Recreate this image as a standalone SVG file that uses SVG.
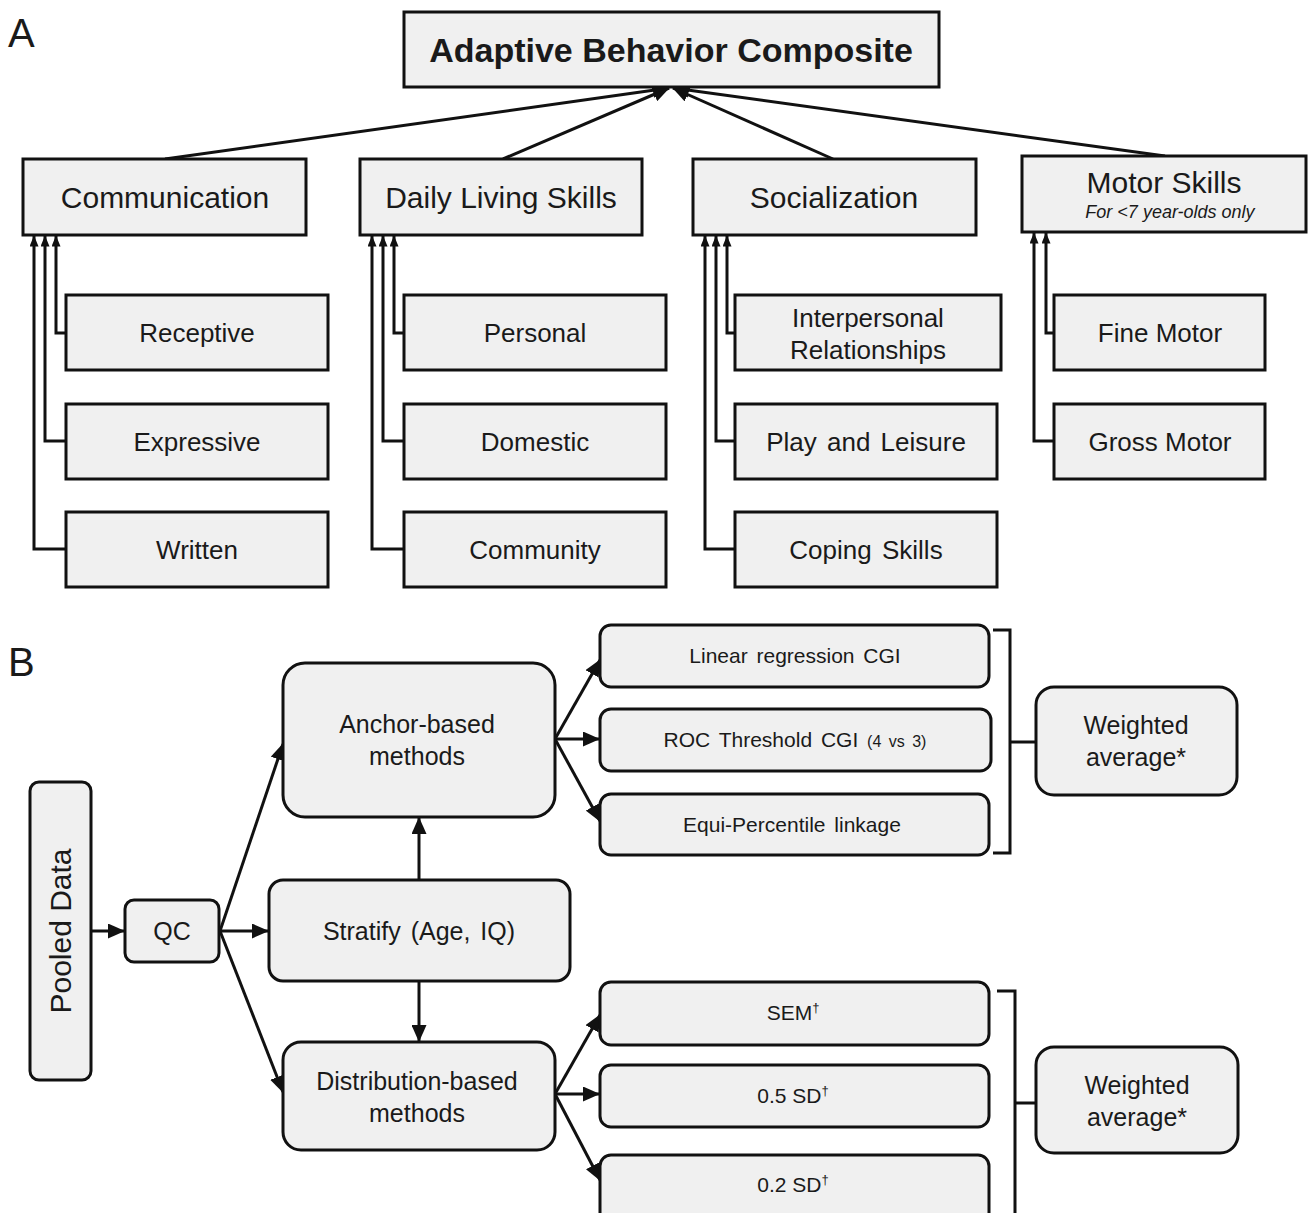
<svg xmlns="http://www.w3.org/2000/svg" width="1313" height="1213" viewBox="0 0 1313 1213">
<style>
text{font-family:"Liberation Sans",Arial,sans-serif;fill:#1a1a1a;text-anchor:middle}
.box{fill:#f0f0f0;stroke:#111;stroke-width:3}
.ln{fill:none;stroke:#111;stroke-width:3}
.l2{font-size:30px}
.sub{font-size:26px}
.b{font-size:25px}
.m{font-size:21px}
.lbl{font-size:40px;text-anchor:start}
</style>
<defs>
<marker id="ah" markerUnits="userSpaceOnUse" markerWidth="17" markerHeight="15" viewBox="0 0 17 15" refX="16" refY="7.5" orient="auto"><path d="M0,0 L17,7.5 L0,15 z" fill="#111"/></marker>
<marker id="as" markerUnits="userSpaceOnUse" markerWidth="11" markerHeight="9" viewBox="0 0 11 9" refX="10.5" refY="4.5" orient="auto"><path d="M0,0 L11,4.5 L0,9 z" fill="#111"/></marker>
</defs>
<rect width="1313" height="1213" fill="#fff"/>
<text class="lbl" x="8" y="47">A</text>
<text class="lbl" x="8" y="676">B</text>

<g id="connectors">
<line class="ln" x1="165" y1="159" x2="669" y2="88" marker-end="url(#ah)"/>
<line class="ln" x1="503" y1="159" x2="669" y2="88" marker-end="url(#ah)"/>
<line class="ln" x1="833" y1="159" x2="673" y2="88" marker-end="url(#ah)"/>
<line class="ln" x1="1165" y1="156" x2="673" y2="88" marker-end="url(#ah)"/>
<path class="ln" d="M66,333 H56 V236" marker-end="url(#as)"/>
<path class="ln" d="M66,441 H45 V236" marker-end="url(#as)"/>
<path class="ln" d="M66,549 H34 V236" marker-end="url(#as)"/>
<path class="ln" d="M404,333 H394 V236" marker-end="url(#as)"/>
<path class="ln" d="M404,441 H383 V236" marker-end="url(#as)"/>
<path class="ln" d="M404,549 H372 V236" marker-end="url(#as)"/>
<path class="ln" d="M735,333 H727 V236" marker-end="url(#as)"/>
<path class="ln" d="M735,441 H716 V236" marker-end="url(#as)"/>
<path class="ln" d="M735,549 H705 V236" marker-end="url(#as)"/>
<path class="ln" d="M1054,333 H1046 V233" marker-end="url(#as)"/>
<path class="ln" d="M1054,441 H1034 V233" marker-end="url(#as)"/>

<line class="ln" x1="91" y1="931" x2="124" y2="931" marker-end="url(#ah)"/>
<line class="ln" x1="220" y1="931" x2="268" y2="931" marker-end="url(#ah)"/>
<line class="ln" x1="220" y1="931" x2="283" y2="744" marker-end="url(#ah)"/>
<line class="ln" x1="220" y1="931" x2="283" y2="1092" marker-end="url(#ah)"/>
<line class="ln" x1="419" y1="880" x2="419" y2="818" marker-end="url(#ah)"/>
<line class="ln" x1="419" y1="981" x2="419" y2="1041" marker-end="url(#ah)"/>
<line class="ln" x1="555" y1="739" x2="600" y2="660" marker-end="url(#ah)"/>
<line class="ln" x1="555" y1="739" x2="599" y2="739" marker-end="url(#ah)"/>
<line class="ln" x1="555" y1="739" x2="600" y2="821" marker-end="url(#ah)"/>
<line class="ln" x1="555" y1="1094" x2="600" y2="1015" marker-end="url(#ah)"/>
<line class="ln" x1="555" y1="1094" x2="599" y2="1094" marker-end="url(#ah)"/>
<line class="ln" x1="555" y1="1094" x2="600" y2="1180" marker-end="url(#ah)"/>
<path class="ln" d="M993,630 H1010 V853 H993 M1010,742 H1036"/>
<path class="ln" d="M997,991 H1015 V1216 M1015,1103 H1036"/>
</g>

<g id="n-abc"><rect class="box" x="404" y="12" width="535" height="75"/><text x="671" y="62" style="font-size:34px;font-weight:bold">Adaptive Behavior Composite</text></g>
<g id="n-comm"><rect class="box" x="23" y="159" width="283" height="76"/><text class="l2" x="165" y="208">Communication</text></g>
<g id="n-dls"><rect class="box" x="360" y="159" width="282" height="76"/><text class="l2" x="501" y="208">Daily Living Skills</text></g>
<g id="n-soc"><rect class="box" x="693" y="159" width="283" height="76"/><text class="l2" x="834" y="208">Socialization</text></g>
<g id="n-motor"><rect class="box" x="1022" y="156" width="284" height="76"/><text class="l2" x="1164" y="193">Motor Skills</text><text x="1170" y="218" style="font-size:18px;font-style:italic">For &lt;7 year-olds only</text></g>

<g id="n-rec"><rect class="box" x="66" y="295" width="262" height="75"/><text class="sub" x="197" y="342">Receptive</text></g>
<g id="n-exp"><rect class="box" x="66" y="404" width="262" height="75"/><text class="sub" x="197" y="451">Expressive</text></g>
<g id="n-wri"><rect class="box" x="66" y="512" width="262" height="75"/><text class="sub" x="197" y="559">Written</text></g>
<g id="n-per"><rect class="box" x="404" y="295" width="262" height="75"/><text class="sub" x="535" y="342">Personal</text></g>
<g id="n-dom"><rect class="box" x="404" y="404" width="262" height="75"/><text class="sub" x="535" y="451">Domestic</text></g>
<g id="n-com"><rect class="box" x="404" y="512" width="262" height="75"/><text class="sub" x="535" y="559">Community</text></g>
<g id="n-ipr"><rect class="box" x="735" y="295" width="266" height="75"/><text class="sub" x="868" y="327">Interpersonal</text><text class="sub" x="868" y="359">Relationships</text></g>
<g id="n-pla"><rect class="box" x="735" y="404" width="262" height="75"/><text class="sub" x="866" y="451" style="word-spacing:3px">Play and Leisure</text></g>
<g id="n-cop"><rect class="box" x="735" y="512" width="262" height="75"/><text class="sub" x="866" y="559" style="word-spacing:3px">Coping Skills</text></g>
<g id="n-fin"><rect class="box" x="1054" y="295" width="211" height="75"/><text class="sub" x="1160" y="342">Fine Motor</text></g>
<g id="n-gro"><rect class="box" x="1054" y="404" width="211" height="75"/><text class="sub" x="1160" y="451">Gross Motor</text></g>

<g id="n-pool"><rect class="box" x="30" y="782" width="61" height="298" rx="9"/><text x="61" y="941" transform="rotate(-90 61 931)" style="font-size:30px">Pooled Data</text></g>
<g id="n-qc"><rect class="box" x="125" y="900" width="94" height="62" rx="9"/><text class="b" x="172" y="940">QC</text></g>
<g id="n-strat"><rect class="box" x="269" y="880" width="301" height="101" rx="14"/><text class="b" x="419" y="940" style="word-spacing:3px">Stratify (Age, IQ)</text></g>
<g id="n-anchor"><rect class="box" x="283" y="663" width="272" height="154" rx="22"/><text class="b" x="417" y="733">Anchor-based</text><text class="b" x="417" y="765">methods</text></g>
<g id="n-dist"><rect class="box" x="283" y="1042" width="272" height="108" rx="18"/><text class="b" x="417" y="1090">Distribution-based</text><text class="b" x="417" y="1122">methods</text></g>
<g id="n-lin"><rect class="box" x="600" y="625" width="389" height="62" rx="11"/><text class="m" x="795" y="663" style="word-spacing:3px">Linear regression CGI</text></g>
<g id="n-roc"><rect class="box" x="600" y="709" width="391" height="62" rx="11"/><text class="m" x="795" y="747" style="word-spacing:3px">ROC Threshold CGI <tspan style="font-size:16px">(4 vs 3)</tspan></text></g>
<g id="n-equi"><rect class="box" x="600" y="794" width="389" height="61" rx="11"/><text class="m" x="792" y="832" style="word-spacing:3px">Equi-Percentile linkage</text></g>
<g id="n-wa1"><rect class="box" x="1036" y="687" width="201" height="108" rx="18"/><text class="b" x="1136" y="734">Weighted</text><text class="b" x="1136" y="766">average*</text></g>
<g id="n-sem"><rect class="box" x="600" y="982" width="389" height="63" rx="11"/><text class="m" x="793" y="1020">SEM<tspan dy="-8" style="font-size:13px">†</tspan></text></g>
<g id="n-05"><rect class="box" x="600" y="1065" width="389" height="62" rx="11"/><text class="m" x="793" y="1103">0.5 SD<tspan dy="-8" style="font-size:13px">†</tspan></text></g>
<g id="n-02"><rect class="box" x="600" y="1155" width="389" height="70" rx="11"/><text class="m" x="793" y="1192">0.2 SD<tspan dy="-8" style="font-size:13px">†</tspan></text></g>
<g id="n-wa2"><rect class="box" x="1036" y="1047" width="202" height="106" rx="18"/><text class="b" x="1137" y="1094">Weighted</text><text class="b" x="1137" y="1126">average*</text></g>
</svg>
